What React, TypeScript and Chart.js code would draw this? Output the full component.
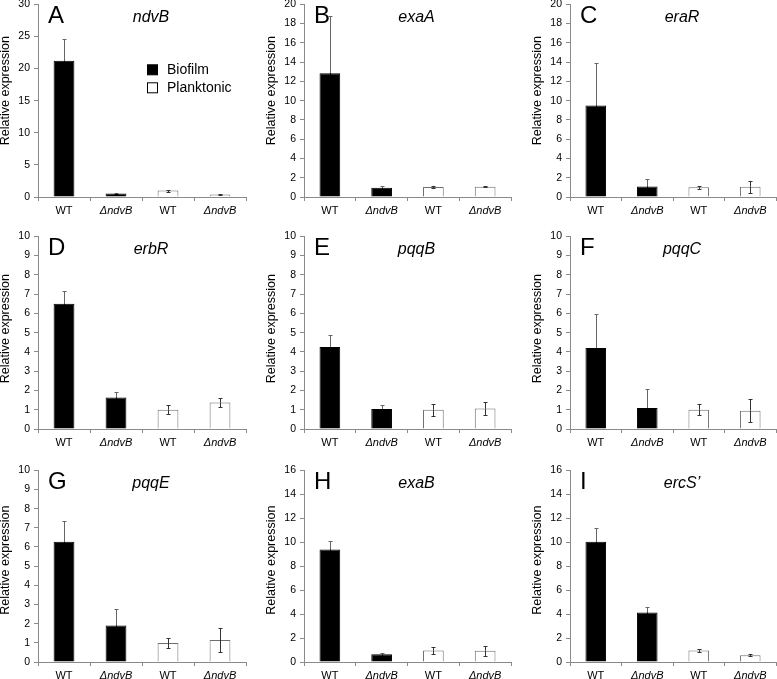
import React, { useEffect, useRef } from 'react';
import { Chart, registerables } from 'chart.js';

Chart.register(...registerables);

// ---------- DATA ----------
const categories = ['WT', 'ΔndvB', 'WT', 'ΔndvB'];
const groups = ['Biofilm', 'Biofilm', 'Planktonic', 'Planktonic'];
const legendLabels = ['Biofilm', 'Planktonic'];
const yAxisTitle = 'Relative expression';

const panelLetters = ['A', 'B', 'C', 'D', 'E', 'F', 'G', 'H', 'I'];
const geneNames = ['ndvB', 'exaA', 'eraR', 'erbR', 'pqqB', 'pqqC', 'pqqE', 'exaB', 'ercS\u2019'];
const yMaxValues = [30, 20, 20, 10, 10, 10, 10, 16, 16];
const yStepValues = [5, 2, 2, 1, 1, 1, 1, 2, 2];

const ndvBMeans = [21.2, 0.55, 1.0, 0.4];
const ndvBErrors = [3.35, 0.12, 0.15, 0.08];
const exaAMeans = [12.85, 0.97, 1.04, 1.07];
const exaAErrors = [5.9, 0.12, 0.08, 0.05];
const eraRMeans = [9.5, 1.1, 1.0, 1.07];
const eraRErrors = [4.4, 0.73, 0.12, 0.63];
const erbRMeans = [6.5, 1.64, 1.0, 1.37];
const erbRErrors = [0.66, 0.28, 0.24, 0.23];
const pqqBMeans = [4.26, 1.04, 1.0, 1.07];
const pqqBErrors = [0.62, 0.22, 0.3, 0.35];
const pqqCMeans = [4.2, 1.09, 1.0, 0.95];
const pqqCErrors = [1.78, 1.0, 0.29, 0.6];
const pqqEMeans = [6.27, 1.91, 0.99, 1.15];
const pqqEErrors = [1.09, 0.83, 0.24, 0.63];
const exaBMeans = [9.39, 0.64, 0.97, 0.94];
const exaBErrors = [0.69, 0.11, 0.28, 0.4];
const ercSMeans = [10.03, 4.14, 0.97, 0.56];
const ercSErrors = [1.19, 0.44, 0.1, 0.07];

const allMeans = [ndvBMeans, exaAMeans, eraRMeans, erbRMeans, pqqBMeans, pqqCMeans, pqqEMeans, exaBMeans, ercSMeans];
const allErrors = [ndvBErrors, exaAErrors, eraRErrors, erbRErrors, pqqBErrors, pqqCErrors, pqqEErrors, exaBErrors, ercSErrors];

// ---------- LAYOUT ----------
const FONT = "'Liberation Sans', Arial, Helvetica, sans-serif";
const colAxis = [38, 304, 570];
const colRight = [246, 511, 776];
const rowTop = [4, 236, 470];
const rowBottom = [197, 429, 662];
const titleShift = [-10, -4, -6];
const Y_W = 38;
const PAD_TOP = 10;
const PAD_RIGHT = 3;
const X_H = 17;
const AXIS_COLOR = '#8a8a8a';

const fillFor = (g: string) => (g === 'Biofilm' ? '#000000' : '#ffffff');
const borderFor = (g: string) => (g === 'Biofilm' ? '#000000' : '#6e6e6e');

function Panel({ idx }: { idx: number }) {
  const ref = useRef<HTMLCanvasElement | null>(null);
  const col = idx % 3;
  const row = Math.floor(idx / 3);
  const left = colAxis[col] - Y_W;
  const top = rowTop[row] - PAD_TOP;
  const width = colRight[col] - left + PAD_RIGHT;
  const height = rowBottom[row] - top + X_H;

  useEffect(() => {
    if (!ref.current) return;
    const means = allMeans[idx];
    const errs = allErrors[idx];

    const overlay = {
      id: 'overlay' + idx,
      afterDatasetsDraw(chart: any) {
        const ctx = chart.ctx;
        const ys = chart.scales.y;
        const meta = chart.getDatasetMeta(0);
        const ca = chart.chartArea;
        ctx.save();
        // error bars
        ctx.lineWidth = 1;
        meta.data.forEach((bar: any, i: number) => {
          const x = Math.round(bar.x) + 0.5;
          const yM = ys.getPixelForValue(means[i]);
          const yT = Math.round(ys.getPixelForValue(means[i] + errs[i])) + 0.5;
          const yB = Math.round(ys.getPixelForValue(Math.max(0, means[i] - errs[i]))) + 0.5;
          const dark = groups[i] === 'Biofilm';
          ctx.strokeStyle = dark ? '#666666' : '#333333';
          ctx.beginPath();
          ctx.moveTo(x, yT);
          ctx.lineTo(x, yM);
          ctx.moveTo(x - 2, yT);
          ctx.lineTo(x + 2, yT);
          ctx.stroke();
          ctx.strokeStyle = dark ? '#000000' : '#333333';
          ctx.beginPath();
          ctx.moveTo(x, yM);
          ctx.lineTo(x, yB);
          ctx.moveTo(x - 2, yB);
          ctx.lineTo(x + 2, yB);
          ctx.stroke();
        });
        // y-axis title
        ctx.save();
        ctx.fillStyle = '#000';
        ctx.font = `12.5px ${FONT}`;
        ctx.textAlign = 'center';
        ctx.textBaseline = 'middle';
        ctx.translate(6, (ca.top + ca.bottom) / 2 + titleShift[row]);
        ctx.rotate(-Math.PI / 2);
        ctx.fillText(yAxisTitle, 0, 0);
        ctx.restore();
        // panel letter
        ctx.fillStyle = '#000';
        ctx.textBaseline = 'alphabetic';
        ctx.textAlign = 'left';
        ctx.font = `24px ${FONT}`;
        ctx.fillText(panelLetters[idx], ca.left + 10, ca.top + 19);
        // gene name
        ctx.textAlign = 'center';
        ctx.font = `italic 16px ${FONT}`;
        ctx.fillText(geneNames[idx], (ca.left + ca.right) / 2 + 9, ca.top + 18);
        // legend (first panel only)
        if (idx === 0) {
          ctx.font = `14px ${FONT}`;
          ctx.textAlign = 'left';
          legendLabels.forEach((lab, k) => {
            const sx = ca.left + 109.5;
            const sy = ca.top + 60.5 + k * 18;
            ctx.fillStyle = fillFor(lab);
            ctx.fillRect(sx, sy, 10, 10);
            ctx.strokeStyle = '#000';
            ctx.strokeRect(sx, sy, 10, 10);
            ctx.fillStyle = '#000';
            ctx.fillText(lab, ca.left + 129, ca.top + 70 + k * 18);
          });
        }
        ctx.restore();
      },
    };

    const chart = new Chart(ref.current, {
      type: 'bar',
      data: {
        labels: categories,
        datasets: [
          {
            data: means,
            backgroundColor: groups.map(fillFor),
            borderColor: groups.map(borderFor),
            borderWidth: 1,
            categoryPercentage: 1,
            barPercentage: 0.4,
          },
        ],
      },
      options: {
        animation: false,
        responsive: false,
        devicePixelRatio: 1,
        layout: { padding: { top: PAD_TOP, right: PAD_RIGHT, left: 0, bottom: 0 } },
        plugins: { legend: { display: false }, tooltip: { enabled: false } },
        scales: {
          x: {
            grid: { display: true, drawOnChartArea: false, tickLength: 4, color: AXIS_COLOR, offset: true },
            border: { color: AXIS_COLOR },
            ticks: {
              color: '#000',
              padding: 3,
              maxRotation: 0,
              autoSkip: false,
              font: (c: any) => ({ family: FONT, size: 11, style: c.index % 2 === 1 ? 'italic' : 'normal' }),
            },
            afterFit: (s: any) => {
              s.height = X_H;
            },
          },
          y: {
            min: 0,
            max: yMaxValues[idx],
            grid: { display: true, drawOnChartArea: false, tickLength: 4, color: AXIS_COLOR },
            border: { color: AXIS_COLOR },
            ticks: { stepSize: yStepValues[idx], color: '#000', padding: 4, font: { family: FONT, size: 10.5 } },
            title: { display: false },
            afterFit: (s: any) => {
              s.width = Y_W;
            },
          },
        },
      },
      plugins: [overlay],
    });
    return () => chart.destroy();
  }, [idx]);

  return (
    <canvas
      ref={ref}
      width={width}
      height={height}
      style={{ position: 'absolute', left, top, width, height }}
    />
  );
}

export default function App() {
  return (
    <div style={{ position: 'absolute', left: 0, top: 0, width: 777, height: 679, background: '#fff', overflow: 'hidden' }}>
      {panelLetters.map((_, i) => (
        <Panel key={i} idx={i} />
      ))}
    </div>
  );
}
